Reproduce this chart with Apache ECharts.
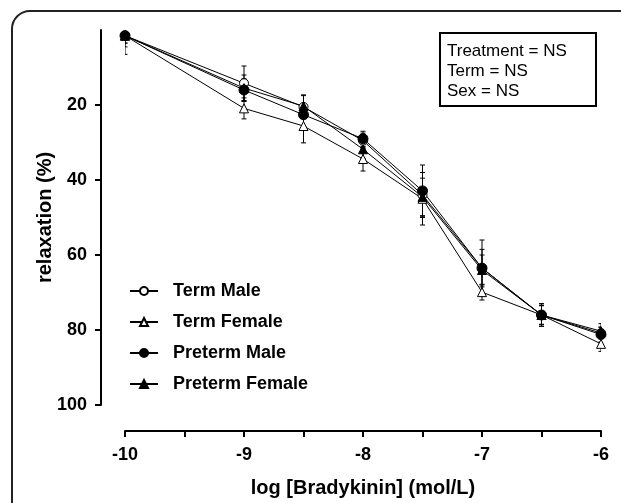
<!DOCTYPE html>
<html>
<head>
<meta charset="utf-8">
<script src="https://cdn.jsdelivr.net/npm/echarts@6/dist/echarts.min.js"></script>
<style>
html,body{margin:0;padding:0;background:#fff;}
#chart{width:621px;height:503px;}
</style>
</head>
<body>
<div id="chart"></div>
<script>
// ---- data ----
const logConc = [-10, -9, -8.5, -8, -7.5, -7, -6.5, -6];
const termMale = [1.5, 14.2, 20.5, 29.5, 44.0, 63.5, 76.0, 80.8];
const termFemale = [1.5, 20.9, 25.6, 34.4, 45.0, 69.9, 76.0, 83.7];
const pretermMale = [1.5, 16.0, 22.6, 29.0, 42.9, 63.5, 76.0, 81.2];
const pretermFemale = [1.5, 15.5, 20.3, 31.8, 44.5, 64.0, 76.0, 80.3];
const termMaleErr = [5, 4.6, 3, 2, 6, 7.5, 3, 1.5];
const termFemaleErr = [3, 2.8, 4.5, 3.2, 7, 2.1, 2.5, 2];
const pretermMaleErr = [2, 3, 3, 2, 6.9, 5, 3, 2];
const pretermFemaleErr = [2, 3.5, 3, 2.5, 5, 4, 2.5, 2];
const yTicks = [20, 40, 60, 80, 100];
const xTickLabels = [-10, -9, -8, -7, -6];
const seriesNames = ['Term Male', 'Term Female', 'Preterm Male', 'Preterm Female'];
const statsLines = ['Treatment = NS', 'Term = NS', 'Sex = NS'];

const FONT = 'Liberation Sans, Arial, sans-serif';
const chart = echarts.init(document.getElementById('chart'));

function pairs(vals) { return logConc.map((x, i) => [x, vals[i]]); }
function triples(vals, errs) { return logConc.map((x, i) => [x, vals[i], errs[i]]); }

function errRender(params, api) {
  const x = api.value(0), y = api.value(1), e = api.value(2);
  const p1 = api.coord([x, y - e]);
  const p2 = api.coord([x, y + e]);
  const cap = 2.5;
  const style = { stroke: '#000', lineWidth: 1 };
  return {
    type: 'group',
    children: [
      { type: 'line', shape: { x1: p1[0], y1: p1[1], x2: p2[0], y2: p2[1] }, style },
      { type: 'line', shape: { x1: p1[0] - cap, y1: p1[1], x2: p1[0] + cap, y2: p1[1] }, style },
      { type: 'line', shape: { x1: p2[0] - cap, y1: p2[1], x2: p2[0] + cap, y2: p2[1] }, style }
    ]
  };
}

const seriesDefs = [
  { name: seriesNames[0], vals: termMale, errs: termMaleErr, symbol: 'circle', fill: '#fff', size: 9 },
  { name: seriesNames[1], vals: termFemale, errs: termFemaleErr, symbol: 'triangle', fill: '#fff', size: 9 },
  { name: seriesNames[2], vals: pretermMale, errs: pretermMaleErr, symbol: 'circle', fill: '#000', size: 10 },
  { name: seriesNames[3], vals: pretermFemale, errs: pretermFemaleErr, symbol: 'triangle', fill: '#000', size: 9 }
];

const series = [];
seriesDefs.forEach(d => {
  series.push({
    type: 'custom',
    renderItem: errRender,
    data: triples(d.vals, d.errs),
    clip: true,
    silent: true,
    z: 1,
    encode: { x: 0, y: 1 }
  });
});
seriesDefs.forEach(d => {
  series.push({
    name: d.name,
    type: 'line',
    data: pairs(d.vals),
    symbol: d.symbol,
    symbolSize: d.size,
    showAllSymbol: true,
    lineStyle: { color: '#000', width: 1 },
    itemStyle: { color: d.fill, borderColor: '#000', borderWidth: 1 },
    z: 3,
    animation: false
  });
});

const option = {
  animation: false,
  backgroundColor: '#fff',
  grid: { left: 125, right: 20, top: 30, bottom: 94 },
  xAxis: {
    type: 'value',
    min: -10, max: -6, interval: 0.5,
    offset: 26,
    axisLine: { show: true, onZero: false, lineStyle: { color: '#000', width: 2 } },
    axisTick: { show: true, length: 6, lineStyle: { color: '#000', width: 2 } },
    axisLabel: {
      color: '#000', fontFamily: FONT, fontWeight: 'bold', fontSize: 18, margin: 15,
      formatter: v => (xTickLabels.indexOf(v) >= 0 ? String(v) : '')
    },
    splitLine: { show: false },
    name: 'log [Bradykinin] (mol/L)',
    nameLocation: 'middle',
    nameGap: 47,
    nameMoveOverlap: false,
    nameTextStyle: { color: '#000', fontFamily: FONT, fontWeight: 'bold', fontSize: 20 }
  },
  yAxis: {
    type: 'value',
    min: 0, max: 100, interval: 20,
    inverse: true,
    offset: 24,
    axisLine: { show: true, onZero: false, lineStyle: { color: '#000', width: 2 } },
    axisTick: { show: true, length: 6, customValues: yTicks, lineStyle: { color: '#000', width: 2 } },
    axisLabel: {
      color: '#000', fontFamily: FONT, fontWeight: 'bold', fontSize: 18, margin: 14,
      customValues: yTicks
    },
    splitLine: { show: false },
    name: 'relaxation (%)',
    nameLocation: 'middle',
    nameGap: 46,
    nameMoveOverlap: false,
    nameTextStyle: { color: '#000', fontFamily: FONT, fontWeight: 'bold', fontSize: 20 }
  },
  legend: {
    data: seriesNames,
    orient: 'vertical',
    left: 124,
    top: 277,
    itemWidth: 28,
    itemHeight: 10,
    itemGap: 13,
    textStyle: { color: '#000', fontFamily: FONT, fontWeight: 'bold', fontSize: 18, padding: [0, 0, 0, 10] },
    selectedMode: false
  },
  graphic: [
    {
      type: 'rect',
      shape: { x: 12, y: 11, width: 640, height: 540, r: 18 },
      style: { fill: 'none', stroke: '#222', lineWidth: 2 },
      silent: true
    },
    {
      type: 'rect',
      shape: { x: 440, y: 33, width: 156, height: 73 },
      style: { fill: '#fff', stroke: '#000', lineWidth: 2 },
      z: 10
    },
    {
      type: 'text',
      left: 447, top: 41,
      z: 11,
      style: {
        text: statsLines.join('\n'),
        fill: '#000',
        font: '17px ' + FONT,
        lineHeight: 20
      }
    }
  ],
  series: series
};
chart.setOption(option);
</script>
</body>
</html>
